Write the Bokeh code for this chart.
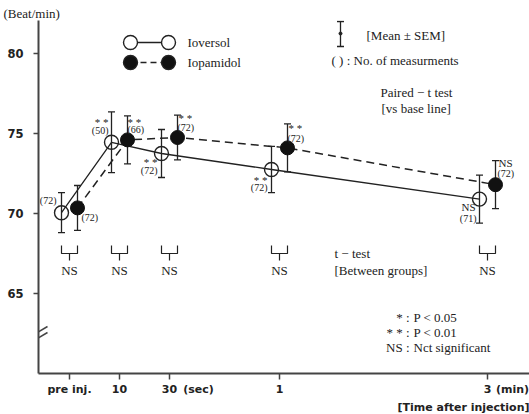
import numpy as np
from bokeh.plotting import figure
from bokeh.models import (ColumnDataSource, Whisker, TeeHead, FixedTicker, Label,
                          Arrow, Range1d, LinearAxis, Title)
from bokeh.embed import file_html
from bokeh.resources import INLINE

# ---- data -------------------------------------------------------------
time_labels = ["pre inj.", "10", "30", "1", "3"]
time_units = ["", "", "(sec)", "", "(min)"]
time_pos = [0.0, 1.0, 2.0, 4.2, 8.36]          # axis position of each time point

ioversol_mean = [70.05, 74.45, 73.75, 72.75, 70.9]
ioversol_sem = [1.25, 1.9, 1.5, 1.45, 1.5]
ioversol_n = ["(72)", "(50)", "(72)", "(72)", "(71)"]
ioversol_sig = ["", "* *", "* *", "* *", "NS"]

iopamidol_mean = [70.35, 74.6, 74.75, 74.1, 71.8]
iopamidol_sem = [1.4, 1.5, 1.4, 1.5, 1.5]
iopamidol_n = ["(72)", "(66)", "(72)", "(72)", "(72)"]
iopamidol_sig = ["", "* *", "* *", "* *", "NS"]

between_groups = ["NS", "NS", "NS", "NS", "NS"]

y_ticks = [65, 70, 75, 80]

# ---- layout helpers ---------------------------------------------------
W, H = 529, 414
LEFT, TOP, BOTTOM = 38, 20, 41
PX0, X0, PPU_X = 69, 0.0, 50.0      # pixel of x=0, pixels per x unit
PY0, Y0, PPU_Y = 213, 70.0, 16.0    # pixel of y=70, pixels per y unit


def dx(px):
    return X0 + (px - PX0) / PPU_X


def dy(py):
    return Y0 - (py - PY0) / PPU_Y


INK = "#222222"
AXIS = "#444444"
SERIF = "Liberation Serif"
SANS = "DejaVu Sans"
DODGE = 8 / PPU_X

p = figure(width=W, height=H, output_backend="svg", toolbar_location=None,
           x_range=Range1d(dx(LEFT), dx(W)), y_range=Range1d(dy(H - BOTTOM), dy(TOP)),
           min_border_left=LEFT, min_border_right=0, min_border_top=TOP,
           min_border_bottom=BOTTOM)
p.outline_line_color = None
p.xgrid.visible = False
p.ygrid.visible = False
p.background_fill_color = "white"
p.border_fill_color = "white"

# y unit caption
p.title.text = "(Beat/min)"
p.title.align = "left"
p.title.offset = -35
p.title.standoff = 0
p.title.text_font = SERIF
p.title.text_font_style = "normal"
p.title.text_font_size = "13px"
p.title.text_color = INK

xax, yax = p.xaxis[0], p.yaxis[0]
for ax in (xax, yax):
    ax.axis_line_color = AXIS
    ax.axis_line_width = 2
    ax.major_tick_line_color = AXIS
    ax.major_tick_line_width = 1.5
    ax.major_tick_in = 0
    ax.major_tick_out = 6
    ax.minor_tick_line_color = None
    ax.major_label_text_color = INK
    ax.major_label_text_font = SANS
    ax.major_label_text_font_style = "bold"

yax.ticker = FixedTicker(ticks=y_ticks)
yax.major_label_text_font_size = "11.5px"
yax.major_label_standoff = 10
yax.major_tick_out = 5

# tick marks on the x axis, labels carried by a second (line-less) axis
xax.ticker = FixedTicker(ticks=time_pos)
xax.major_label_text_color = None
xax.major_label_standoff = 0

label_ticks, label_text = list(time_pos), list(time_labels)
unit_shift = {"(sec)": 29 / PPU_X, "(min)": 25 / PPU_X}
for t, u in zip(time_pos, time_units):
    if u:
        label_ticks.append(t + unit_shift[u])
        label_text.append(u)
lab_ax = LinearAxis(ticker=FixedTicker(ticks=label_ticks),
                    major_label_overrides={t: s for t, s in zip(label_ticks, label_text)},
                    axis_line_color=None, major_tick_line_color=None,
                    minor_tick_line_color=None, major_tick_in=0, major_tick_out=0,
                    major_label_standoff=3, major_label_text_font=SANS,
                    major_label_text_font_style="bold",
                    major_label_text_font_size="11px", major_label_text_color=INK)
p.add_layout(lab_ax, "below")
p.add_layout(Title(text="[Time after injection]", align="right", standoff=0,
                   text_font=SANS, text_font_style="bold", text_font_size="11px",
                   text_color=INK), "below")

# ---- series -----------------------------------------------------------
pos = np.array(time_pos)
a_mean, a_sem = np.array(ioversol_mean), np.array(ioversol_sem)
b_mean, b_sem = np.array(iopamidol_mean), np.array(iopamidol_sem)

src_a = ColumnDataSource(dict(x=pos - DODGE, y=a_mean, upper=a_mean + a_sem,
                              lower=a_mean - a_sem, n=ioversol_n, sig=ioversol_sig))
src_b = ColumnDataSource(dict(x=pos + DODGE, y=b_mean, upper=b_mean + b_sem,
                              lower=b_mean - b_sem, n=iopamidol_n, sig=iopamidol_sig))

p.line("x", "y", source=src_a, line_color=INK, line_width=1.3)
p.line("x", "y", source=src_b, line_color=INK, line_width=1.5, line_dash="8 5")

for src in (src_a, src_b):
    p.add_layout(Whisker(source=src, base="x", upper="upper", lower="lower",
                         dimension="height", line_color=INK, line_width=1.3,
                         upper_head=TeeHead(size=7, line_color=INK, line_width=1.3),
                         lower_head=TeeHead(size=7, line_color=INK, line_width=1.3)))

p.scatter("x", "y", source=src_a, size=14, marker="circle", fill_alpha=0,
          line_color=INK, line_width=1.4)
p.scatter("x", "y", source=src_b, size=14, marker="circle", fill_color="#111111",
          line_color="#111111")

# n and significance labels next to each point (pixel offsets)
a_n_off = [(-5, -12), (-3, -12), (-4, 17), (-4, 18), (-3, 19)]
a_s_off = [(0, 0), (-3, -20), (-4, 8), (-4, 10), (-4, 8)]
b_n_off = [(4, 10), (0, -10), (0, -10), (0, -9), (2, -11)]
b_s_off = [(0, 0), (0, -18), (1, -20), (1, -20), (3, -22)]

src_a.data.update(nx=[o[0] for o in a_n_off], ny=[o[1] for o in a_n_off],
                  sx_=[o[0] for o in a_s_off], sy_=[o[1] for o in a_s_off])
src_b.data.update(nx=[o[0] for o in b_n_off], ny=[o[1] for o in b_n_off],
                  sx_=[o[0] for o in b_s_off], sy_=[o[1] for o in b_s_off])

for src, align in ((src_a, "right"), (src_b, "left")):
    p.text("x", "y", text="n", source=src, x_offset="nx", y_offset="ny",
           text_align=align, text_baseline="middle", text_font=SERIF,
           text_font_size="10px", text_color=INK)
    p.text("x", "y", text="sig", source=src, x_offset="sx_", y_offset="sy_",
           text_align=align, text_baseline="middle", text_font=SERIF,
           text_font_size="11px", text_color=INK)

# between-group brackets with their result
yb_top, yb_mid, yb_bot, yb_txt = dy(245), dy(253), dy(260), dy(270)
br_xs, br_ys = [], []
for xc in pos:
    xl, xr = xc - DODGE, xc + DODGE
    br_xs += [[xl, xl, xr, xr], [xc, xc]]
    br_ys += [[yb_top, yb_mid, yb_mid, yb_top], [yb_mid, yb_bot]]
p.multi_line(br_xs, br_ys, line_color=INK, line_width=1.2)
p.text(pos, [yb_txt] * len(pos), text=between_groups, text_align="center",
       text_baseline="middle", text_font=SERIF, text_font_size="13px",
       text_color=INK)


def note(text, px, py, size="13px", align="left", font=SERIF):
    p.add_layout(Label(x=dx(px), y=dy(py), text=text, text_align=align,
                       text_baseline="middle", text_font=font,
                       text_font_size=size, text_color=INK))


# axis break marks
for off in (0, 6):
    p.add_layout(Arrow(end=None, x_start=dx(32), y_start=dy(335 + off),
                       x_end=dx(47), y_end=dy(326 + off),
                       line_color=AXIS, line_width=1.5))

# series key
for yk, dash, fill in ((42, "solid", "white"), (62, "6 4", "#111111")):
    p.line([dx(130), dx(168)], [dy(yk), dy(yk)], line_color=INK, line_width=1.3,
           line_dash=dash)
    p.scatter([dx(130), dx(168)], [dy(yk), dy(yk)], size=14, fill_color=fill,
              line_color=INK, line_width=1.4)
note("Ioversol", 187, 42)
note("Iopamidol", 187, 62)

# error-bar key
p.add_layout(Arrow(x_start=dx(340), y_start=dy(46), x_end=dx(340), y_end=dy(21),
                   line_color=INK, line_width=1.3,
                   start=TeeHead(size=7, line_color=INK, line_width=1.3),
                   end=TeeHead(size=7, line_color=INK, line_width=1.3)))
p.scatter([dx(340)], [dy(33)], size=3, fill_color=INK, line_color=INK)
note("[Mean ± SEM]", 366, 35)
note("( ) :  No. of measurments", 331, 60)
note("Paired − t  test", 380, 92)
note("[vs base line]", 381, 108)
note("t − test", 334, 253)
note("[Between  groups]", 334, 270)

# significance key
for yk, key, desc in ((317, "* :", "P < 0.05"), (332, "* * :", "P < 0.01"),
                      (347, "NS :", "Nct  significant")):
    note(key, 409, yk, align="right")
    note(desc, 413, yk)

open("out.html", "w").write(file_html(p, INLINE))
